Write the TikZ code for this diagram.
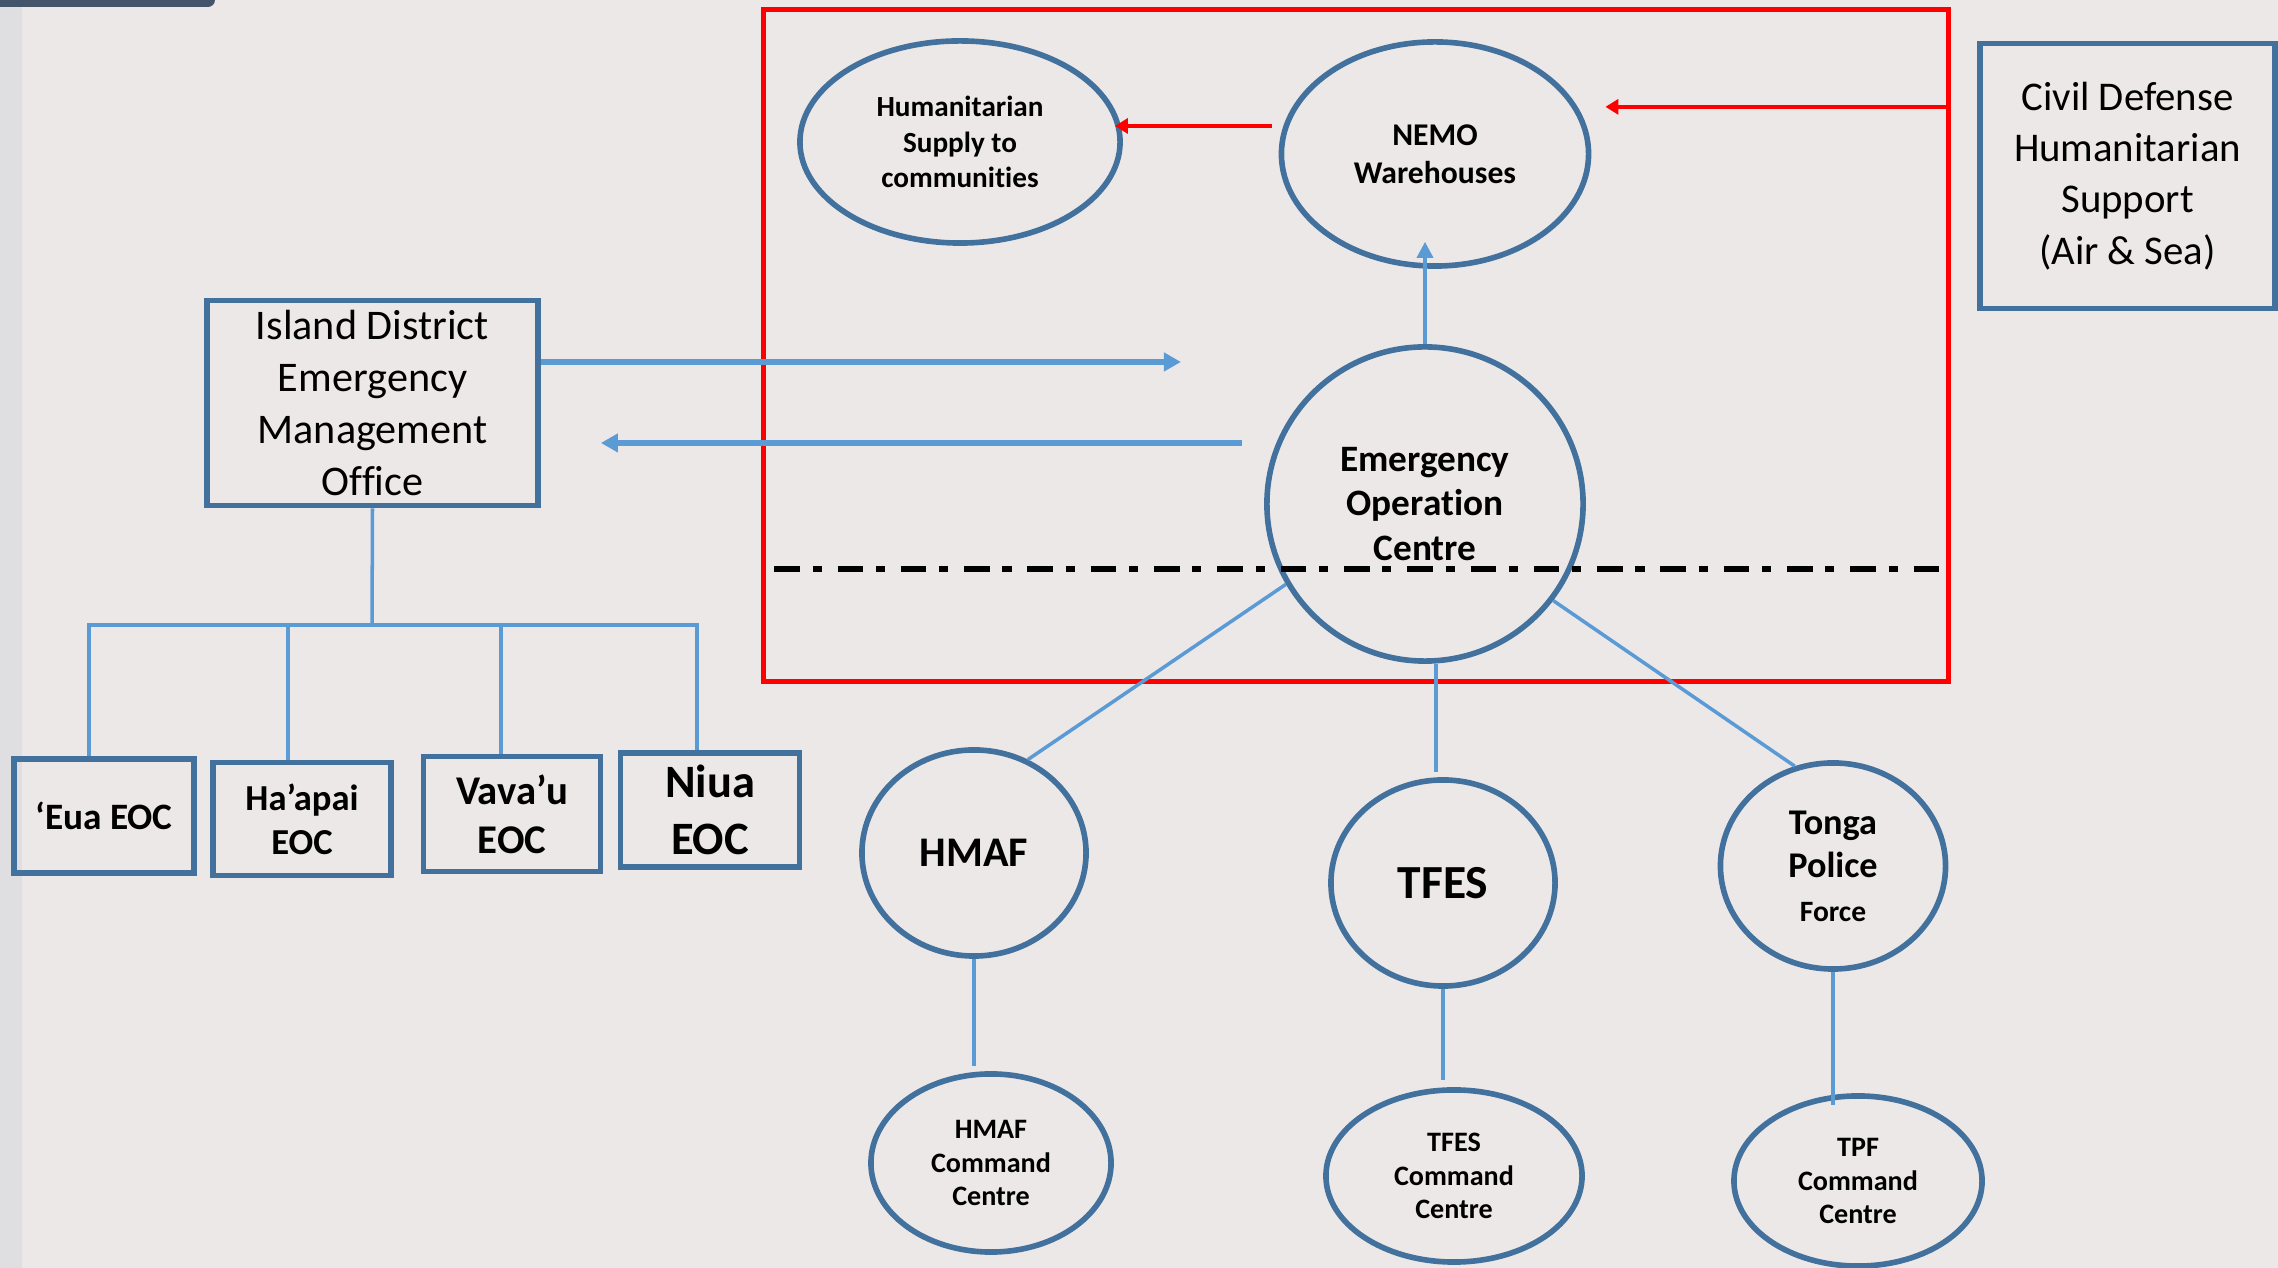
\documentclass[tikz,border=0pt]{standalone}
\usepackage{fontspec}
\setmainfont{Carlito}[Ligatures=NoCommon]
\usetikzlibrary{shapes.geometric,arrows.meta,calc}
\definecolor{bgcol}{HTML}{EDE8E8}
\definecolor{stripcol}{HTML}{DFDFE1}
\definecolor{slatecol}{HTML}{44546A}
\definecolor{boxblue}{HTML}{41719C}
\definecolor{lineblue}{HTML}{5B9BD5}
\newcommand\myfs[2]{\fontsize{#1}{#2}\selectfont}
\begin{document}
\begin{tikzpicture}[x=0.01cm,y=-0.01cm,
  box/.style={draw=boxblue, line width=1.6pt, rectangle, inner sep=0pt, align=center, text=black},
  ell/.style={draw=boxblue, line width=1.6pt, ellipse, inner sep=0pt, align=center, text=black},
  conn/.style={draw=lineblue, line width=1pt},
  barr/.style={draw=lineblue, line width=1.5pt, -{Triangle[length=0.17cm,width=0.18cm]}},
  barrthin/.style={draw=lineblue, line width=1pt, -{Triangle[length=0.16cm,width=0.16cm]}},
  rarr/.style={draw=red, line width=1pt, -{Triangle[length=0.13cm,width=0.15cm]}},
  divider/.style={draw=black, line width=1.6pt, dash pattern=on 7.3pt off 3.6pt on 2.6pt off 4.5pt}
]
\useasboundingbox (0,0) rectangle (2278,1268);
\fill[bgcol] (0,0) rectangle (2278,1268);
\fill[stripcol] (0,0) rectangle (22,1268);
\fill[slatecol, rounded corners=0.07cm] (-20,-20) rectangle (215,7);

% red frame
\node[draw=red, line width=1.4pt, minimum width=11.84cm, minimum height=6.71cm, inner sep=0pt] (frame) at (1356,345.5) {};

% boxes
\node[box, minimum width=2.95cm, minimum height=2.65cm, font=\myfs{11.6}{14.6}] (civil) at (2127.5,176) {Civil Defense\\Humanitarian\\Support\\(Air \& Sea)};
\node[box, minimum width=3.31cm, minimum height=2.05cm, font=\myfs{12}{14.7}] (island) at (372.5,403) {Island District\\Emergency\\Management\\Office};

% top ellipses
\node[ell, minimum width=3.2cm, minimum height=2.02cm, font=\bfseries\myfs{8.3}{10}] (human) at (960,142) {Humanitarian\\Supply to\\communities};
\node[ell, minimum width=3.07cm, minimum height=2.24cm, font=\bfseries\myfs{9}{10.8}] (nemo) at (1435,154) {NEMO\\Warehouses};
\node[ell, minimum width=3.16cm, minimum height=3.14cm, font=\bfseries\myfs{10.6}{12.6}] (eoc) at (1425,504) {Emergency\\Operation\\Centre};

% middle ellipses
\node[ell, minimum width=2.24cm, minimum height=2.06cm, font=\bfseries\myfs{12}{14}] (hmaf) at (974,853) {HMAF};
\node[ell, minimum width=2.24cm, minimum height=2.06cm, font=\bfseries\myfs{13.5}{16}] (tfes) at (1443,883) {TFES};
\node[ell, minimum width=2.25cm, minimum height=2.06cm, font=\bfseries\myfs{10.3}{12.4}] (tonga) at (1833,866) {{\myfs{10.3}{12.4}Tonga}\\{\myfs{10.3}{12.4}Police}\\{\myfs{8.4}{10}Force}};

% command centres
\node[ell, minimum width=2.4cm, minimum height=1.78cm, font=\bfseries\myfs{8}{9.6}] (hmafcc) at (991,1163) {HMAF\\Command\\Centre};
\node[ell, minimum width=2.56cm, minimum height=1.72cm, font=\bfseries\myfs{8}{9.6}] (tfescc) at (1454,1176) {TFES\\Command\\Centre};
\node[ell, minimum width=2.48cm, minimum height=1.70cm, font=\bfseries\myfs{8}{9.6}] (tpfcc) at (1858,1181) {TPF\\Command\\Centre};

% district EOC boxes
\node[box, minimum width=1.80cm, minimum height=1.14cm, font=\bfseries\myfs{10.6}{12}] (eua) at (104,816) {‘Eua EOC};
\node[box, minimum width=1.78cm, minimum height=1.13cm, font=\bfseries\myfs{10.4}{12.5}] (haapai) at (302,819) {Ha’apai\\EOC};
\node[box, minimum width=1.77cm, minimum height=1.15cm, font=\bfseries\myfs{11.6}{14}] (vavau) at (512,814) {Vava’u\\EOC};
\node[box, minimum width=1.79cm, minimum height=1.14cm, font=\bfseries\myfs{13.2}{16}] (niua) at (710,810) {Niua\\EOC};

% red arrows
\draw[rarr] ([yshift=2.385cm]frame.east) -- ([xshift=0.14cm,yshift=2.385cm]frame.east -| nemo.east);
\draw[rarr] ([xshift=-0.07cm,yshift=0.28cm]nemo.west) -- ([xshift=-0.08cm,yshift=0.28cm]nemo.west -| human.east);

% blue arrows
\draw[barrthin] (eoc.north) -- ([yshift=0.27cm]nemo.south -| eoc.north);
\draw[barr] ([yshift=0.41cm]island.east) -- ++(640,0);
\draw[barr] ([xshift=-0.22cm,yshift=0.61cm]eoc.west) -- ([xshift=0.6cm,yshift=0.61cm]eoc.west -| island.east);

% EOC to services
\draw[conn] (eoc.210) -- (hmaf.60);
\draw[conn] ([xshift=0.11cm]eoc.south) -- ([xshift=0.11cm,yshift=0.05cm]eoc.south |- tfes.north);
\draw[conn] (eoc.-37) -- (tonga.111);

% services to command centres
\draw[conn] (hmaf.south) -- ([yshift=0.05cm]hmaf.south |- hmafcc.north);
\draw[conn] (tfes.south) -- ([yshift=0.07cm]tfes.south |- tfescc.north);
\draw[conn] (tonga.south) -- ([yshift=-0.12cm]tonga.south |- tpfcc.north);

% island tree
\coordinate (bus) at (372,625);
\draw[conn] (island.south) -- (bus);
\draw[conn] ([xshift=-0.15cm]eua.north) |- ([xshift=-0.13cm]bus -| niua.north) -- ([xshift=-0.13cm]niua.north);
\draw[conn] ([xshift=-0.14cm]haapai.north) -- ([xshift=-0.14cm]bus -| haapai.north);
\draw[conn] ([xshift=-0.11cm]vavau.north) -- ([xshift=-0.11cm]bus -| vavau.north);

% divider
\coordinate (divy) at (0,569);
\draw[divider] ([xshift=0.13cm]frame.west |- divy) -- ([xshift=-0.02cm]frame.east |- divy);
\end{tikzpicture}
\end{document}
